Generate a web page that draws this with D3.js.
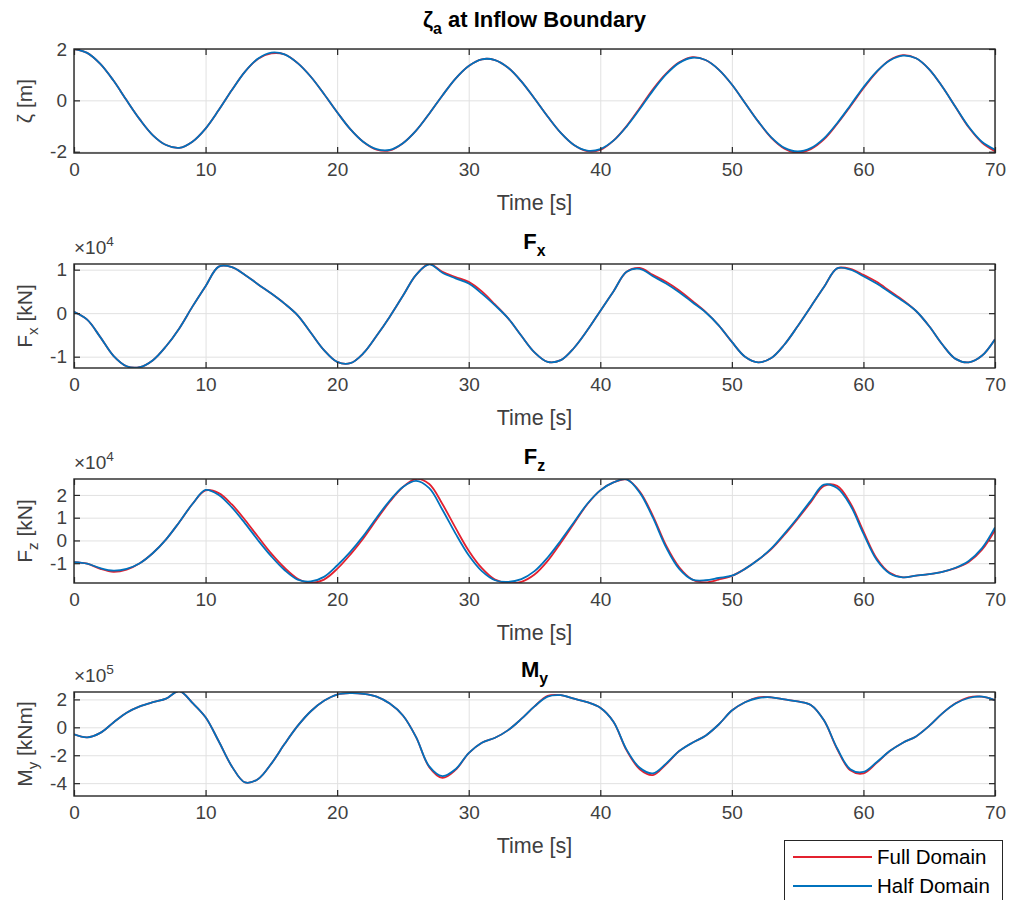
<!DOCTYPE html>
<html>
<head>
<meta charset="utf-8">
<script src="https://cdn.jsdelivr.net/npm/d3@7"></script>
<style>
    body { margin: 0; background: #fff; }
    svg { display: block; font-family: "Liberation Sans", Arial, Helvetica, sans-serif; }
</style>
</head>
<body>
<div id="chart"></div>
<script>
(function () {
    'use strict';

    // Sample times [s]
    const time = [0, 1, 2, 3, 4, 5, 6, 7, 8, 9, 10, 11, 12, 13, 14, 15, 16, 17, 18, 19,
        20, 21, 22, 23, 24, 25, 26, 27, 28, 29, 30, 31, 32, 33, 34, 35, 36, 37, 38, 39,
        40, 41, 42, 43, 44, 45, 46, 47, 48, 49, 50, 51, 52, 53, 54, 55, 56, 57, 58, 59,
        60, 61, 62, 63, 64, 65, 66, 67, 68, 69, 70];

    // Wave elevation at inflow boundary [m]
    const zetaHalf = [2.00, 1.85, 1.42, 0.77, 0.00, -0.74, -1.36, -1.74, -1.85, -1.61,
        -1.10, -0.38, 0.40, 1.12, 1.63, 1.86, 1.79, 1.45, 0.92, 0.25,
        -0.46, -1.12, -1.62, -1.90, -1.93, -1.67, -1.18, -0.52, 0.19, 0.85,
        1.34, 1.60, 1.57, 1.27, 0.74, 0.07, -0.63, -1.27, -1.74, -1.96,
        -1.90, -1.57, -1.02, -0.34, 0.38, 1.01, 1.46, 1.66, 1.57, 1.20,
        0.62, -0.10, -0.82, -1.44, -1.85, -1.99, -1.86, -1.48, -0.89, -0.20,
        0.51, 1.12, 1.55, 1.74, 1.64, 1.21, 0.53, -0.26, -1.03, -1.61, -1.92];
    const zetaFull = [2.00, 1.85, 1.42, 0.77, 0.00, -0.74, -1.36, -1.74, -1.85, -1.61,
        -1.10, -0.38, 0.40, 1.12, 1.62, 1.83, 1.79, 1.45, 0.92, 0.25,
        -0.46, -1.12, -1.62, -1.92, -1.95, -1.67, -1.18, -0.52, 0.19, 0.85,
        1.34, 1.60, 1.57, 1.27, 0.74, 0.07, -0.63, -1.27, -1.74, -1.98,
        -1.93, -1.57, -1.00, -0.30, 0.43, 1.04, 1.48, 1.68, 1.57, 1.20,
        0.62, -0.10, -0.82, -1.46, -1.88, -2.04, -1.90, -1.52, -0.92, -0.24,
        0.47, 1.10, 1.57, 1.76, 1.64, 1.21, 0.53, -0.26, -1.05, -1.64, -1.98];

    // Horizontal force Fx [x 1e4 kN]
    const fxHalf = [0.03, -0.15, -0.55, -0.98, -1.22, -1.24, -1.08, -0.76, -0.35, 0.15,
        0.62, 1.07, 1.06, 0.88, 0.66, 0.45, 0.22, -0.05, -0.45, -0.85,
        -1.12, -1.15, -0.92, -0.52, -0.08, 0.40, 0.88, 1.12, 0.93, 0.80,
        0.68, 0.45, 0.18, -0.12, -0.52, -0.90, -1.12, -1.08, -0.80, -0.40,
        0.05, 0.50, 0.95, 1.02, 0.85, 0.68, 0.48, 0.25, 0.02, -0.28,
        -0.66, -1.00, -1.13, -1.03, -0.72, -0.30, 0.15, 0.60, 1.03, 1.00,
        0.85, 0.68, 0.48, 0.28, 0.05, -0.30, -0.72, -1.05, -1.13, -0.98, -0.60];
    const fxFull = [0.03, -0.15, -0.55, -0.98, -1.22, -1.24, -1.08, -0.76, -0.35, 0.15,
        0.62, 1.07, 1.06, 0.88, 0.66, 0.45, 0.22, -0.05, -0.45, -0.85,
        -1.12, -1.15, -0.92, -0.52, -0.08, 0.40, 0.88, 1.13, 0.95, 0.83,
        0.72, 0.50, 0.20, -0.12, -0.52, -0.90, -1.12, -1.08, -0.80, -0.40,
        0.05, 0.50, 0.95, 1.04, 0.88, 0.72, 0.52, 0.28, 0.03, -0.28,
        -0.66, -1.00, -1.13, -1.03, -0.72, -0.30, 0.15, 0.60, 1.03, 1.02,
        0.88, 0.72, 0.51, 0.30, 0.05, -0.30, -0.72, -1.05, -1.13, -0.98, -0.60];

    // Vertical force Fz [x 1e4 kN]
    const fzHalf = [-0.95, -1.02, -1.22, -1.33, -1.25, -1.00, -0.55, 0.05, 0.80, 1.60,
        2.22, 2.00, 1.45, 0.75, 0.00, -0.70, -1.30, -1.72, -1.80, -1.60,
        -1.10, -0.50, 0.20, 1.00, 1.75, 2.35, 2.62, 2.30, 1.35, 0.30,
        -0.65, -1.35, -1.75, -1.82, -1.70, -1.35, -0.75, 0.00, 0.80, 1.60,
        2.20, 2.55, 2.68, 2.10, 1.00, -0.30, -1.25, -1.72, -1.75, -1.65,
        -1.55, -1.25, -0.85, -0.35, 0.30, 1.00, 1.75, 2.45, 2.30, 1.55,
        0.30, -0.85, -1.45, -1.62, -1.55, -1.48, -1.38, -1.20, -0.90, -0.35, 0.57];
    const fzFull = [-0.95, -1.02, -1.25, -1.38, -1.28, -1.00, -0.55, 0.05, 0.80, 1.60,
        2.20, 2.08, 1.58, 0.90, 0.15, -0.58, -1.20, -1.68, -1.86, -1.72,
        -1.25, -0.62, 0.10, 0.92, 1.70, 2.35, 2.70, 2.48, 1.60, 0.55,
        -0.45, -1.22, -1.72, -1.87, -1.82, -1.50, -0.90, -0.10, 0.75, 1.58,
        2.20, 2.55, 2.68, 2.15, 1.08, -0.22, -1.18, -1.72, -1.84, -1.72,
        -1.56, -1.25, -0.85, -0.38, 0.25, 0.95, 1.68, 2.40, 2.40, 1.65,
        0.40, -0.78, -1.42, -1.62, -1.55, -1.48, -1.38, -1.22, -0.95, -0.42, 0.45];

    // Pitch moment My [x 1e5 kNm]
    const myHalf = [-0.50, -0.72, -0.40, 0.35, 1.05, 1.50, 1.80, 2.05, 2.60, 1.75,
        0.72, -1.00, -2.80, -3.95, -3.70, -2.60, -1.20, 0.10, 1.15, 1.90,
        2.35, 2.45, 2.40, 2.20, 1.70, 0.85, -0.70, -2.80, -3.50, -3.00,
        -1.85, -1.10, -0.75, -0.20, 0.60, 1.50, 2.20, 2.30, 2.05, 1.80,
        1.40, 0.40, -1.60, -2.90, -3.30, -2.60, -1.70, -1.10, -0.60, 0.20,
        1.20, 1.80, 2.10, 2.15, 2.00, 1.85, 1.60, 0.50, -1.50, -3.00,
        -3.20, -2.50, -1.70, -1.10, -0.65, 0.10, 1.00, 1.70, 2.10, 2.20, 1.95];
    const myFull = [-0.50, -0.72, -0.40, 0.35, 1.05, 1.50, 1.80, 2.05, 2.60, 1.75,
        0.72, -1.00, -2.80, -3.95, -3.70, -2.60, -1.20, 0.10, 1.15, 1.90,
        2.35, 2.45, 2.40, 2.20, 1.70, 0.85, -0.70, -2.85, -3.62, -3.05,
        -1.85, -1.10, -0.75, -0.20, 0.60, 1.50, 2.25, 2.30, 2.05, 1.80,
        1.40, 0.40, -1.65, -3.00, -3.42, -2.65, -1.70, -1.10, -0.60, 0.20,
        1.20, 1.80, 2.15, 2.15, 2.00, 1.85, 1.60, 0.50, -1.55, -3.08,
        -3.30, -2.55, -1.70, -1.10, -0.65, 0.10, 1.00, 1.72, 2.15, 2.20, 1.95];

    // Tick values
    const timeTicks = [0, 10, 20, 30, 40, 50, 60, 70];
    const zetaTicks = [-2, 0, 2];
    const fxTicks = [-1, 0, 1];
    const fzTicks = [-1, 0, 1, 2];
    const myTicks = [-4, -2, 0, 2];

    const seriesNames = ['Full Domain', 'Half Domain'];
    const seriesColors = ['#e3212f', '#0072bd'];

    const W = 1011, H = 900;
    const X0 = 74, X1 = 995, PH = 104;
    const TXT = '#404040';

    const panels = [
        {top: 49, domain: [-2.05, 2.0], ticks: zetaTicks, full: zetaFull, half: zetaHalf, exp: null,
            title: [{t: 'ζ'}, {t: 'a', sub: true}, {t: ' at Inflow Boundary'}], titleY: 27,
            ylabel: [{t: 'ζ [m]'}]},
        {top: 264, domain: [-1.26, 1.13], ticks: fxTicks, full: fxFull, half: fxHalf, exp: '4',
            title: [{t: 'F'}, {t: 'x', sub: true}], titleY: 249,
            ylabel: [{t: 'F'}, {t: 'x', sub: true}, {t: ' [kN]'}]},
        {top: 479, domain: [-1.87, 2.7], ticks: fzTicks, full: fzFull, half: fzHalf, exp: '4',
            title: [{t: 'F'}, {t: 'z', sub: true}], titleY: 464,
            ylabel: [{t: 'F'}, {t: 'z', sub: true}, {t: ' [kN]'}]},
        {top: 692, domain: [-4.92, 2.53], ticks: myTicks, full: myFull, half: myHalf, exp: '5',
            title: [{t: 'M'}, {t: 'y', sub: true}], titleY: 677,
            ylabel: [{t: 'M'}, {t: 'y', sub: true}, {t: ' [kNm]'}]}
    ];

    // Writes text parts with tex-like subscripts / superscripts into a <text>
    function rich(textSel, parts, size) {
        let shift = 0;
        parts.forEach(p => {
            const target = p.sub ? size * 0.3 : (p.sup ? -size * 0.4 : 0);
            textSel.append('tspan')
                .attr('dy', target - shift)
                .attr('font-size', p.sub || p.sup ? size * 0.72 : size)
                .text(p.t);
            shift = target;
        });
    }

    const svg = d3.select('#chart').append('svg').attr('width', W).attr('height', H);
    const x = d3.scaleLinear().domain([0, 70]).range([X0, X1]);

    panels.forEach((p, i) => {
        const top = p.top, bot = p.top + PH;
        const y = d3.scaleLinear().domain(p.domain).range([bot, top]);
        const g = svg.append('g');

        g.append('rect').attr('x', X0).attr('y', top).attr('width', X1 - X0).attr('height', PH)
            .attr('fill', '#fff');

        // Grid
        g.append('g').attr('transform', `translate(0,${bot})`)
            .call(d3.axisBottom(x).tickValues(timeTicks).tickSize(-PH).tickFormat(''))
            .call(gg => {
                gg.select('.domain').remove();
                gg.selectAll('line').attr('stroke', '#e1e1e1');
            });
        g.append('g').attr('transform', `translate(${X0},0)`)
            .call(d3.axisLeft(y).tickValues(p.ticks).tickSize(-(X1 - X0)).tickFormat(''))
            .call(gg => {
                gg.select('.domain').remove();
                gg.selectAll('line').attr('stroke', '#e1e1e1');
            });

        // Lines
        const clipId = 'clip' + i;
        svg.append('clipPath').attr('id', clipId).append('rect')
            .attr('x', X0).attr('y', top).attr('width', X1 - X0).attr('height', PH);
        const line = d3.line()
            .x((d, k) => x(time[k]))
            .y(d => y(d))
            .curve(d3.curveCatmullRom.alpha(0.5));
        [p.full, p.half].forEach((vals, s) => {
            g.append('path').datum(vals)
                .attr('clip-path', `url(#${clipId})`)
                .attr('d', line)
                .attr('fill', 'none')
                .attr('stroke', seriesColors[s])
                .attr('stroke-width', 1.8)
                .attr('stroke-linejoin', 'round');
        });

        // Axes with inside ticks
        const axStyle = gg => {
            gg.select('.domain').remove();
            gg.selectAll('line').attr('stroke', '#262626').attr('stroke-width', 1.2);
            gg.selectAll('text').attr('fill', TXT).attr('font-size', 19);
        };
        g.append('g').attr('transform', `translate(0,${bot})`)
            .call(d3.axisBottom(x).tickValues(timeTicks).tickSize(-6).tickPadding(10))
            .call(axStyle);
        g.append('g').attr('transform', `translate(0,${top})`)
            .call(d3.axisTop(x).tickValues(timeTicks).tickSize(-6).tickFormat(''))
            .call(axStyle);
        g.append('g').attr('transform', `translate(${X0},0)`)
            .call(d3.axisLeft(y).tickValues(p.ticks).tickSize(-6).tickPadding(7)
                .tickFormat(d => d3.format('d')(d).replace('−', '-')))
            .call(axStyle);
        g.append('g').attr('transform', `translate(${X1},0)`)
            .call(d3.axisRight(y).tickValues(p.ticks).tickSize(-6).tickFormat(''))
            .call(axStyle);

        g.append('rect').attr('x', X0).attr('y', top).attr('width', X1 - X0).attr('height', PH)
            .attr('fill', 'none').attr('stroke', '#262626').attr('stroke-width', 1.4);

        // Labels
        g.append('text').attr('x', (X0 + X1) / 2).attr('y', bot + 57)
            .attr('text-anchor', 'middle').attr('fill', TXT).attr('font-size', 21.5)
            .text('Time [s]');

        const yl = g.append('text')
            .attr('transform', `translate(${X0 - 42},${(top + bot) / 2}) rotate(-90)`)
            .attr('text-anchor', 'middle').attr('fill', TXT);
        rich(yl, p.ylabel, 21);

        const tt = g.append('text').attr('x', (X0 + X1) / 2).attr('y', p.titleY)
            .attr('text-anchor', 'middle').attr('fill', '#000').attr('font-weight', 'bold');
        rich(tt, p.title, 22);

        if (p.exp) {
            const ex = g.append('text').attr('x', X0).attr('y', top - 10).attr('fill', TXT);
            rich(ex, [{t: '×10'}, {t: p.exp, sup: true}], 19);
        }
    });

    // Legend
    const lg = svg.append('g');
    lg.append('rect').attr('x', 784.5).attr('y', 840.5).attr('width', 218).attr('height', 72)
        .attr('fill', '#fff').attr('stroke', '#262626').attr('stroke-width', 1);
    seriesNames.forEach((name, s) => {
        const ly = 857 + s * 29;
        lg.append('line').attr('x1', 793).attr('x2', 872).attr('y1', ly).attr('y2', ly)
            .attr('stroke', seriesColors[s]).attr('stroke-width', 1.8);
        lg.append('text').attr('x', 877).attr('y', ly + 7).attr('fill', '#000')
            .attr('font-size', 20.5).text(name);
    });
})();
</script>
</body>
</html>
